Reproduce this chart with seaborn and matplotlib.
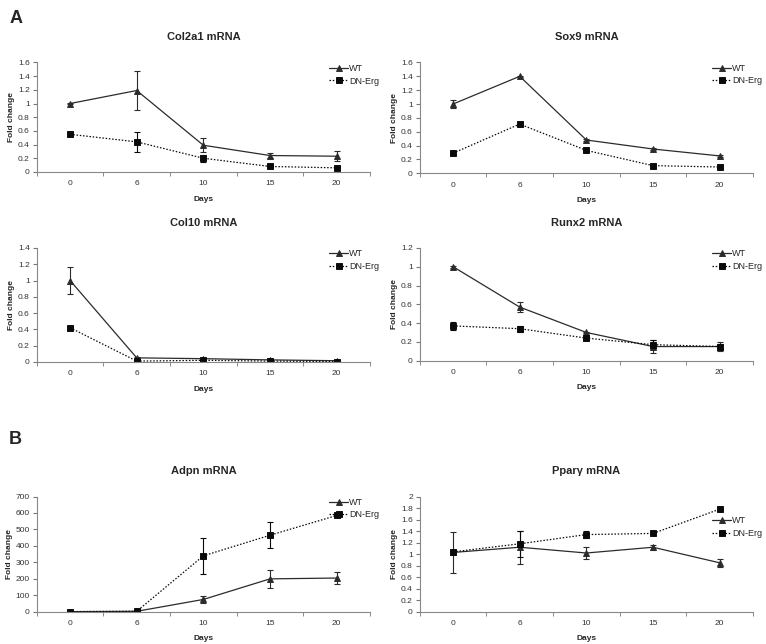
import matplotlib
matplotlib.use('Agg')
import matplotlib.pyplot as plt
import numpy as np
import pandas as pd
import seaborn as sns

days = ['0', '6', '10', '15', '20']
groups = ['WT', 'DN-Erg']

col2a1_wt = [1.0, 1.19, 0.39, 0.24, 0.23]
col2a1_wt_err = [0.01, 0.29, 0.10, 0.03, 0.07]
col2a1_dn = [0.55, 0.44, 0.20, 0.08, 0.06]
col2a1_dn_err = [0.03, 0.15, 0.05, 0.01, 0.01]

sox9_wt = [1.0, 1.4, 0.48, 0.35, 0.25]
sox9_wt_err = [0.06, 0.01, 0.01, 0.01, 0.01]
sox9_dn = [0.29, 0.71, 0.33, 0.11, 0.09]
sox9_dn_err = [0.01, 0.01, 0.01, 0.01, 0.01]

col10_wt = [1.0, 0.05, 0.04, 0.025, 0.015]
col10_wt_err = [0.16, 0.01, 0.01, 0.005, 0.005]
col10_dn = [0.42, 0.01, 0.02, 0.01, 0.005]
col10_dn_err = [0.01, 0.005, 0.005, 0.005, 0.005]

runx2_wt = [1.0, 0.57, 0.30, 0.15, 0.15]
runx2_wt_err = [0.01, 0.05, 0.01, 0.07, 0.05]
runx2_dn = [0.37, 0.34, 0.24, 0.17, 0.15]
runx2_dn_err = [0.04, 0.03, 0.02, 0.05, 0.03]

adpn_wt = [1, 3, 75, 200, 205]
adpn_wt_err = [1, 2, 22, 55, 35]
adpn_dn = [1, 3, 340, 465, 585]
adpn_dn_err = [1, 2, 110, 80, 5]

pparg_wt = [1.03, 1.12, 1.02, 1.12, 0.85]
pparg_wt_err = [0.35, 0.29, 0.11, 0.04, 0.07]
pparg_dn = [1.04, 1.18, 1.34, 1.36, 1.78]
pparg_dn_err = [0.01, 0.23, 0.06, 0.01, 0.01]

titles = ['Col2a1 mRNA', 'Sox9 mRNA', 'Col10 mRNA', 'Runx2 mRNA', 'Adpn mRNA', 'Ppar\u03b3 mRNA']
y_tops = [1.6, 1.6, 1.4, 1.2, 700, 2.0]
y_steps = [0.2, 0.2, 0.2, 0.2, 100, 0.2]

sns.set_style('white')
plt.rcParams['font.family'] = ['Liberation Sans', 'DejaVu Sans']

fig = plt.figure(figsize=(7.66, 6.44), dpi=100)

# axes rectangles in figure fraction
rects = [
    [0.048, 0.733, 0.435, 0.170],
    [0.548, 0.731, 0.435, 0.172],
    [0.048, 0.438, 0.435, 0.177],
    [0.548, 0.440, 0.435, 0.175],
    [0.048, 0.050, 0.435, 0.179],
    [0.548, 0.050, 0.435, 0.179],
]
legend_anchor = [(0.865, 1.02)] * 5 + [(0.865, 0.86)]

series = [
    (col2a1_wt, col2a1_wt_err, col2a1_dn, col2a1_dn_err),
    (sox9_wt, sox9_wt_err, sox9_dn, sox9_dn_err),
    (col10_wt, col10_wt_err, col10_dn, col10_dn_err),
    (runx2_wt, runx2_wt_err, runx2_dn, runx2_dn_err),
    (adpn_wt, adpn_wt_err, adpn_dn, adpn_dn_err),
    (pparg_wt, pparg_wt_err, pparg_dn, pparg_dn_err),
]

palette = {'WT': '#2b2b2b', 'DN-Erg': '#0a0a0a'}

for i, (wt, wt_err, dn, dn_err) in enumerate(series):
    ax = fig.add_axes(rects[i])
    df = pd.DataFrame({
        'Day': days * 2,
        'Fold': wt + dn,
        'Group': ['WT'] * len(days) + ['DN-Erg'] * len(days),
    })
    sns.pointplot(data=df, x='Day', y='Fold', hue='Group', order=days, hue_order=groups,
                  palette=palette, markers=['^', 's'], linestyles=['-', (0, (1.2, 1.4))],
                  errorbar=None, markersize=3.8, linewidth=0.9, ax=ax)

    # error bars (SEM)
    pos = np.arange(len(days))
    for vals, err, col in [(wt, wt_err, palette['WT']), (dn, dn_err, palette['DN-Erg'])]:
        ax.errorbar(pos, vals, yerr=err, fmt='none', ecolor=col, elinewidth=0.8,
                    capsize=2.2, capthick=0.8, zorder=1)

    top = y_tops[i]
    ax.set_ylim(0, top)
    ticks = np.arange(0, top + y_steps[i] / 2, y_steps[i])
    ax.set_yticks(ticks)
    ax.set_yticklabels([f'{t:g}' for t in np.round(ticks, 2)])
    ax.set_xlim(-0.5, len(days) - 0.5)
    ax.set_xticks(pos)
    ax.set_xticklabels(days)
    ax.set_xticks(np.arange(-0.5, len(days), 1), minor=True)
    ax.tick_params(axis='x', which='major', length=0, labelsize=6, pad=6, colors='#333333')
    ax.tick_params(axis='x', which='minor', length=3, direction='out', color='#777777',
                   bottom=True)
    ax.tick_params(axis='y', length=3, direction='out', labelsize=6, pad=2,
                   colors='#333333', color='#777777', left=True)

    for side in ['top', 'right']:
        ax.spines[side].set_visible(False)
    for side in ['left', 'bottom']:
        ax.spines[side].set_color('#888888')
        ax.spines[side].set_linewidth(0.8)

    ax.set_title(titles[i], fontsize=8, fontweight='bold', pad=16)
    ax.set_xlabel('Days', fontsize=6, fontweight='bold', labelpad=6)
    ax.set_ylabel('Fold change', fontsize=6, fontweight='bold', labelpad=2)

    sns.move_legend(ax, 'upper left', bbox_to_anchor=legend_anchor[i], frameon=False,
                    title=None, fontsize=6.5, handlelength=2.2, handletextpad=0.1,
                    labelspacing=0.4, borderaxespad=0)

fig.text(0.012, 0.985, 'A', fontsize=13, fontweight='bold', va='top')
fig.text(0.012, 0.33, 'B', fontsize=13, fontweight='bold', va='top')

fig.savefig('out.png', dpi=100)
